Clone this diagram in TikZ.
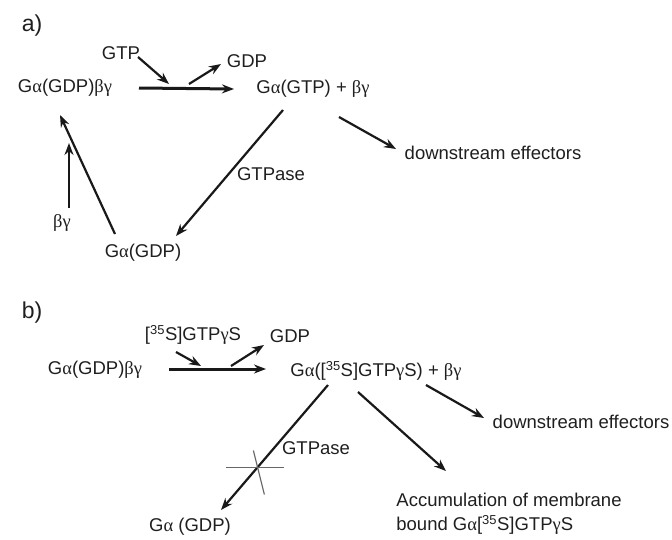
\documentclass[tikz,border=0pt]{standalone}
\usepackage{fontspec}
\setmainfont{Liberation Sans}
\newfontfamily\grkfont{Liberation Serif}
\newcommand{\galpha}{{\grkfont α}}
\newcommand{\gbeta}{{\grkfont β}}
\newcommand{\ggamma}{{\grkfont γ}}
\usetikzlibrary{positioning, arrows.meta, calc}

\begin{document}
\begin{tikzpicture}[x=1pt, y=-1pt,
  lbl/.style={inner sep=0pt, text=black!88, font=\fontsize{18.5}{24}\selectfont},
  panel/.style={inner sep=0pt, text=black!88, font=\fontsize{23}{26}\selectfont},
  arr/.style={-{Stealth[length=12pt,width=9pt]}, line width=2.2pt, draw=black!90},
  mainarr/.style={arr, line width=3pt},
  strike/.style={line width=1.2pt, draw=black!60}]
  \useasboundingbox (0,0) rectangle (672,539);
  % a) normal cycle
  \node[panel] (la) at (32,26) {a)};
  \node[lbl] (gtpA) at (121,53) {GTP};
  \node[lbl] (gdpA) at (247,61) {GDP};
  \node[lbl] (L1) at (65,88) {G\galpha(GDP)\gbeta\ggamma};
  \node[lbl] (R1) at (313,89) {G\galpha(GTP) + \gbeta\ggamma};
  \node[lbl] (B1) at (143,253) {G\galpha(GDP)};
  \node[lbl] (bgA) at (62,223) {\gbeta\ggamma};
  \node[lbl] (gtpaseA) at (271,174) {GTPase};
  \node[lbl] (effA) at (493,153) {downstream effectors};
  \draw[mainarr] ($(L1)+(74,0)$) -- ($(R1)+(-79,0)$);
  \draw[arr] ($(gtpA)+(17,4)$) -- ($(L1)+(104,-4)$);
  \draw[arr] ($(L1)+(124,-4)$) -- ($(gdpA)+(-26,3)$);
  \draw[arr] ($(B1)+(-28,-19)$) -- ($(L1)+(-5,27)$);
  \draw[arr] ($(bgA)+(7,-15)$) -- ($(L1)+(4,55)$);
  \draw[arr] ($(R1)+(-30,21)$) -- ($(B1)+(33,-17)$);
  \draw[arr] ($(R1)+(26,28)$) -- ($(effA)+(-97,-4)$);
  % b) with [35S]GTPgammaS
  \node[panel] (lb) at (32,313) {b)};
  \node[lbl] (gtpsB) at (193,335) {[\textsuperscript{35}S]GTP\ggamma S};
  \node[lbl] (gdpB) at (290,336) {GDP};
  \node[lbl] (L2) at (95,370) {G\galpha(GDP)\gbeta\ggamma};
  \node[lbl] (R2) at (376,371) {G\galpha([\textsuperscript{35}S]GTP\ggamma S) + \gbeta\ggamma};
  \node[lbl] (B2) at (190,527) {G\galpha\ (GDP)};
  \node[lbl] (gtpaseB) at (316,448) {GTPase};
  \node[lbl] (effB) at (581,422) {downstream effectors};
  \node[lbl, align=left] (accB) at (509,514) {Accumulation of membrane\\bound G\galpha[\textsuperscript{35}S]GTP\ggamma S};
  \draw[mainarr] ($(L2)+(74,-1)$) -- ($(R2)+(-110,-2)$);
  \draw[arr] ($(gtpsB)+(-17,17)$) -- ($(L2)+(106,-4)$);
  \draw[arr] ($(L2)+(136,-4)$) -- ($(gdpB)+(-26,9)$);
  \draw[arr] ($(R2)+(-48,14)$) -- coordinate[pos=0.66] (xB) ($(B2)+(31,-17)$);
  \draw[arr] ($(R2)+(-18,21)$) -- ($(accB)+(-63,-43)$);
  \draw[arr] ($(R2)+(50,14)$) -- ($(effB)+(-97,-4)$);
  % blocked GTPase
  \draw[strike] ($(xB)+(-31,0)$) -- ($(xB)+(27,0)$);
  \draw[strike] ($(xB)+(-4,-17)$) -- ($(xB)+(7,27)$);
\end{tikzpicture}
\end{document}
